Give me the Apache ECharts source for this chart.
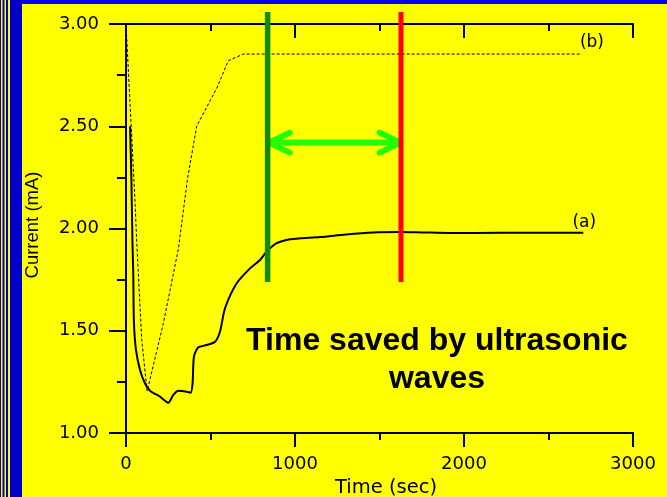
<!DOCTYPE html>
<html>
<head>
<meta charset="utf-8">
<title>Current vs Time</title>
<script src="https://cdn.jsdelivr.net/npm/echarts@6/dist/echarts.min.js"></script>
<style>
  html, body { margin: 0; padding: 0; background: #ffff00; }
  #chart { width: 667px; height: 497px; }
</style>
</head>
<body>
<div id="chart"></div>
<script>
// Curve (a): current during the run, solid line
const timeA = [24, 32, 38, 43, 47, 59, 83, 112, 142, 201, 250, 280, 309, 359, 382, 394, 402, 428, 477, 527, 556, 586, 655, 734, 793, 832, 892, 970, 1030, 1150, 1300, 1463, 1621, 1750, 1917, 2213, 2706];
const currentA = [2.50, 2.24, 1.94, 1.78, 1.54, 1.406, 1.308, 1.243, 1.207, 1.178, 1.148, 1.186, 1.207, 1.202, 1.197, 1.243, 1.373, 1.419, 1.430, 1.446, 1.495, 1.61, 1.732, 1.805, 1.846, 1.887, 1.928, 1.947, 1.952, 1.958, 1.971, 1.981, 1.983, 1.981, 1.978, 1.979, 1.979];

// Curve (b): current with ultrasonic waves, dashed line
const timeB = [0, 53, 63, 93, 125, 221, 310, 363, 418, 537, 605, 694, 2698];
const currentB = [3.0, 2.14, 1.944, 1.455, 1.205, 1.536, 1.90, 2.237, 2.50, 2.686, 2.82, 2.853, 2.853];

// Marker lines: time where (b) levels off and where (a) levels off
const markerTimes = [838, 1627];
const markerSpan = [1.738, 3.059];
const arrowLevel = 2.42;
const arrowEnds = [845, 1625];

// Axis ticks
const xTicks = [0, 1000, 2000, 3000];
const yTicks = [1.00, 1.50, 2.00, 2.50, 3.00];

const seriesLabels = ['(a)', '(b)'];
const noteText = 'Time saved by ultrasonic\nwaves';

const zip = (xs, ys) => xs.map((x, i) => [x, ys[i]]);
const last = arr => arr[arr.length - 1];

// Double-headed open arrow between the two marker lines
const armDx = 124, armDy = 0.049;
const arrowData = [
  [arrowEnds[0], arrowLevel], [arrowEnds[1], arrowLevel], null,
  [arrowEnds[0] + armDx, arrowLevel + armDy], [arrowEnds[0], arrowLevel], [arrowEnds[0] + armDx, arrowLevel - armDy], null,
  [arrowEnds[1] - armDx, arrowLevel + armDy], [arrowEnds[1], arrowLevel], [arrowEnds[1] - armDx, arrowLevel - armDy]
];

const axisLineStyle = { color: '#000', width: 2 };
const tickFont = { color: '#000', fontFamily: 'DejaVu Sans', fontSize: 18 };
const curveLabelFont = { color: '#000', opacity: 1, fontFamily: 'DejaVu Sans', fontSize: 17 };

const chart = echarts.init(document.getElementById('chart'), null, { renderer: 'canvas' });

chart.setOption({
  animation: false,
  backgroundColor: '#ffff00',
  grid: { left: 126, right: 34, top: 24, bottom: 64, containLabel: false, outerBoundsMode: 'none' },
  xAxis: [
    {
      type: 'value', position: 'bottom', min: xTicks[0], max: last(xTicks), interval: 1000,
      axisLine: { show: true, lineStyle: axisLineStyle },
      axisTick: { show: true, inside: false, length: 14, lineStyle: axisLineStyle },
      minorTick: { show: true, splitNumber: 2, length: 7, lineStyle: axisLineStyle },
      splitLine: { show: false },
      axisLabel: Object.assign({ margin: 22, formatter: v => String(v) }, tickFont),
      name: 'Time (sec)', nameLocation: 'middle', nameGap: 40,
      nameTextStyle: { color: '#000', fontFamily: 'DejaVu Sans', fontSize: 19.5, padding: [0, 0, 0, 13] }
    },
    {
      type: 'value', position: 'top', min: xTicks[0], max: last(xTicks), interval: 1000,
      axisLine: { show: true, lineStyle: axisLineStyle },
      axisTick: { show: true, inside: true, length: 14, lineStyle: axisLineStyle },
      minorTick: { show: true, splitNumber: 2, length: 7, lineStyle: axisLineStyle },
      splitLine: { show: false },
      axisLabel: { show: false }
    }
  ],
  yAxis: [
    {
      type: 'value', position: 'left', min: yTicks[0], max: last(yTicks), interval: 0.5,
      axisLine: { show: true, lineStyle: axisLineStyle },
      axisTick: { show: true, inside: false, length: 17, lineStyle: axisLineStyle },
      minorTick: { show: true, splitNumber: 2, length: 9, lineStyle: axisLineStyle },
      splitLine: { show: false },
      axisLabel: Object.assign({ margin: 27, formatter: v => v.toFixed(2) }, tickFont),
      name: 'Current (mA)', nameLocation: 'middle', nameGap: 84,
      nameTextStyle: { color: '#000', fontFamily: 'Liberation Sans', fontSize: 18.5, padding: [0, 0, 0, 7] }
    },
    {
      type: 'value', position: 'right', min: yTicks[0], max: last(yTicks), interval: 0.5,
      axisLine: { show: true, lineStyle: axisLineStyle },
      axisTick: { show: true, inside: true, length: 17, lineStyle: axisLineStyle },
      minorTick: { show: true, splitNumber: 2, length: 8, lineStyle: axisLineStyle },
      splitLine: { show: false },
      axisLabel: { show: false }
    }
  ],
  series: [
    {
      name: 'b', type: 'line', xAxisIndex: 0, yAxisIndex: 0,
      data: zip(timeB, currentB),
      showSymbol: false, symbol: 'none',
      lineStyle: { color: '#000', width: 1, type: [3, 2] },
      z: 3
    },
    {
      name: 'a', type: 'line', xAxisIndex: 0, yAxisIndex: 0,
      data: zip(timeA, currentA),
      showSymbol: false, symbol: 'none', smooth: 0.25,
      lineStyle: { color: '#000', width: 2 },
      z: 4
    },
    {
      // curve names written at the end of each curve
      name: 'curve labels', type: 'scatter', symbol: 'circle', symbolSize: 1,
      itemStyle: { color: 'rgba(0,0,0,0)' },
      data: [
        { value: [last(timeA), last(currentA)], label: Object.assign({ show: true, position: 'top', distance: 1, offset: [1, 0], formatter: seriesLabels[0] }, curveLabelFont) },
        { value: [last(timeB), last(currentB)], label: Object.assign({ show: true, position: 'top', distance: 2, offset: [10, 0], formatter: seriesLabels[1] }, curveLabelFont) }
      ],
      z: 7
    },
    {
      name: 'arrow', type: 'line', data: arrowData, connectNulls: false,
      showSymbol: false, symbol: 'none',
      lineStyle: { color: '#22ff00', width: 6, cap: 'round', join: 'round' },
      z: 5
    },
    {
      name: 'start', type: 'line', clip: false,
      data: [[markerTimes[0], markerSpan[0]], [markerTimes[0], markerSpan[1]]],
      showSymbol: false, symbol: 'none',
      lineStyle: { color: '#138a13', width: 5.5, cap: 'butt' },
      z: 6
    },
    {
      name: 'end', type: 'line', clip: false,
      data: [[markerTimes[1], markerSpan[0]], [markerTimes[1], markerSpan[1]]],
      showSymbol: false, symbol: 'none',
      lineStyle: { color: '#ff0000', width: 5, cap: 'butt' },
      z: 6
    }
  ],
  graphic: [
    // blue border strips
    { type: 'rect', shape: { x: 0, y: 0, width: 667, height: 4 }, style: { fill: '#0000ee' }, z: 100 },
    { type: 'rect', shape: { x: 0, y: 0, width: 22, height: 497 }, style: { fill: '#0000cc' }, z: 100 },
    { type: 'rect', shape: { x: 1, y: 0, width: 1.5, height: 497 }, style: { fill: '#ffff00' }, z: 101 },
    { type: 'rect', shape: { x: 4.5, y: 0, width: 1.5, height: 497 }, style: { fill: '#ffff00' }, z: 101 },
    { type: 'rect', shape: { x: 8, y: 0, width: 2, height: 497 }, style: { fill: '#ffff00' }, z: 101 },
    {
      type: 'text', x: 437, y: 360, z: 50,
      style: {
        text: noteText, fill: '#000', font: 'bold 32px "Liberation Sans"',
        textAlign: 'center', textVerticalAlign: 'middle', lineHeight: 38
      }
    }
  ]
});
</script>
</body>
</html>
